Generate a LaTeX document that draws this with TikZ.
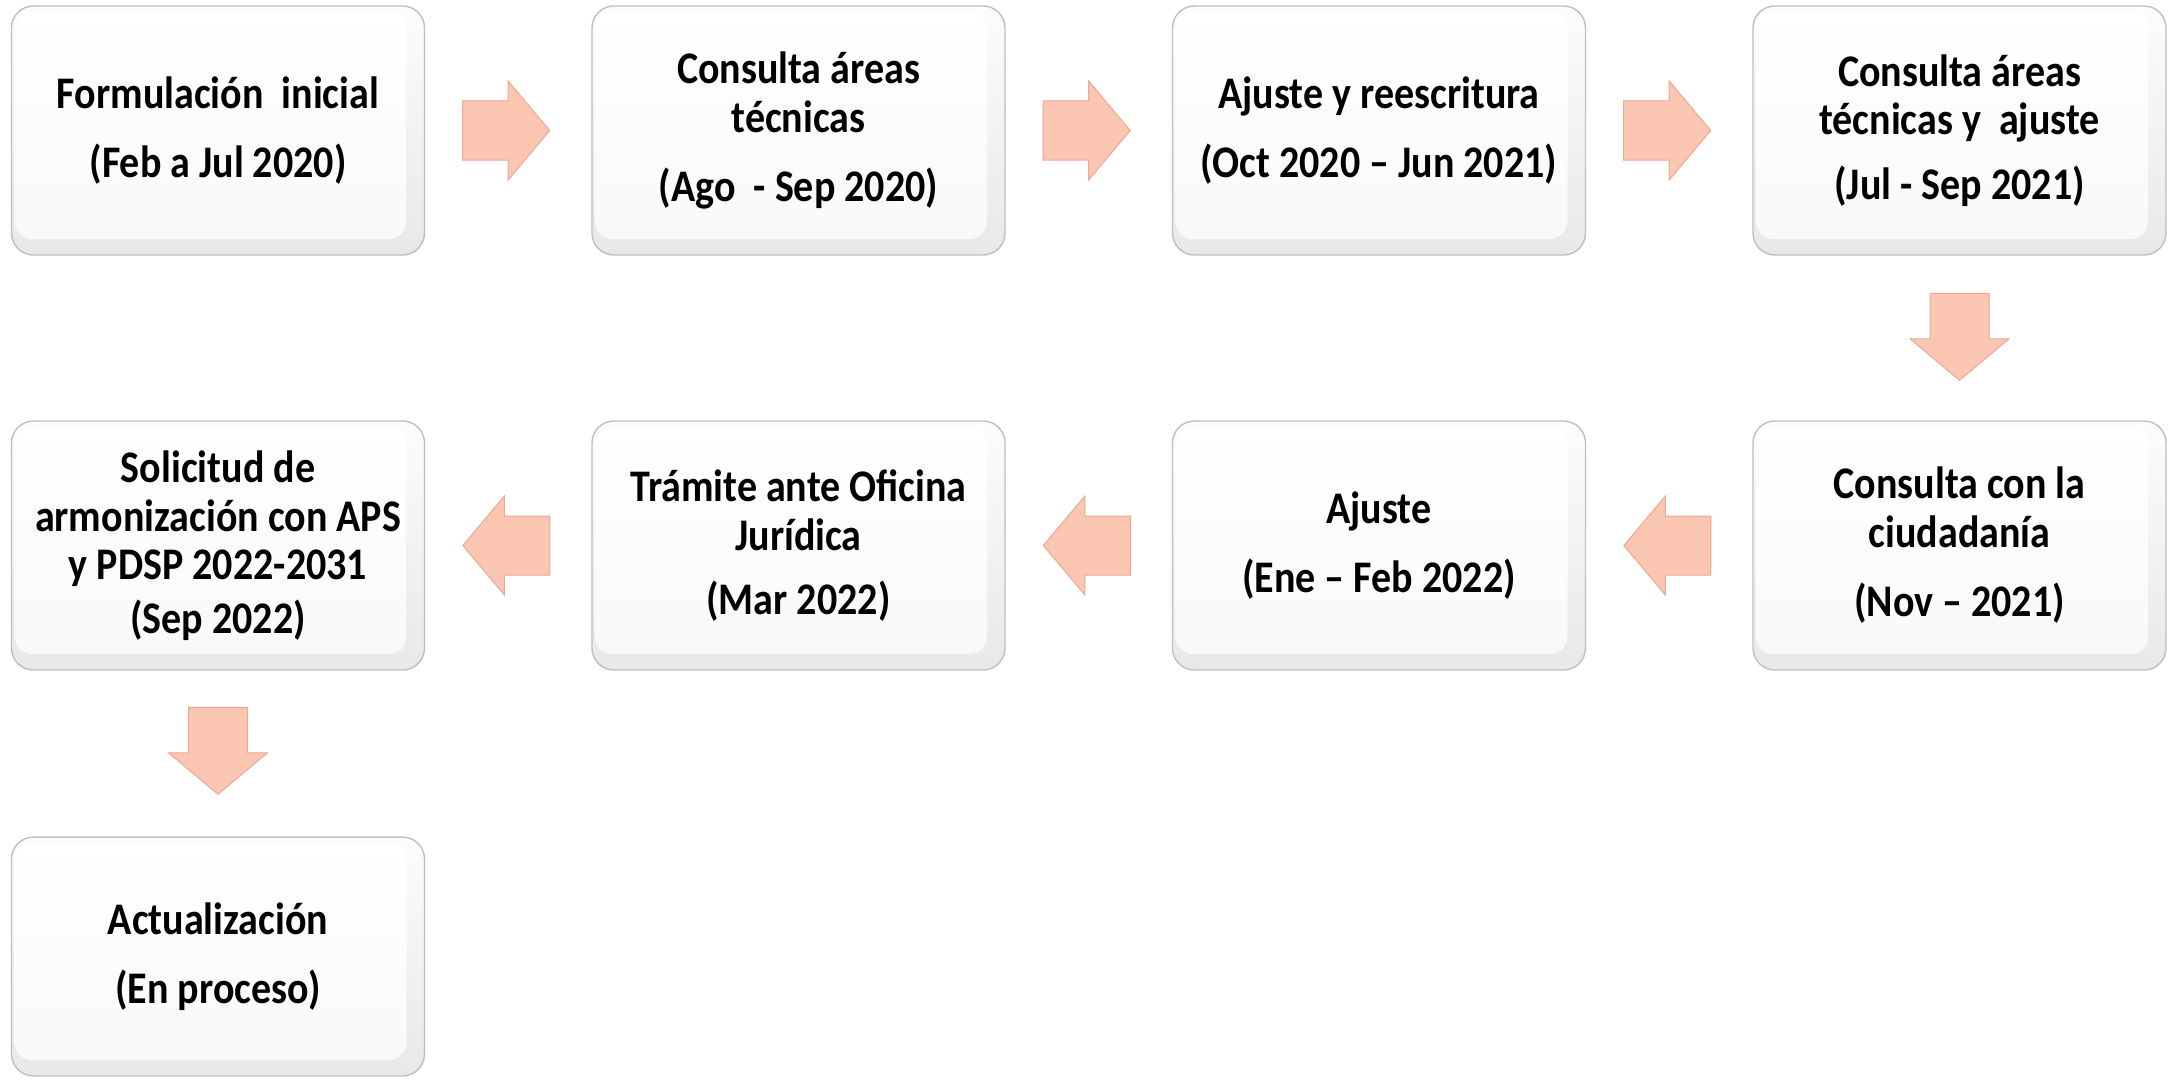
\documentclass[tikz,border=0pt]{standalone}
\usepackage{fontspec}
\setmainfont{Carlito}
\usetikzlibrary{shapes.arrows}

\begin{document}
\begin{tikzpicture}
			\definecolor{arrowFill}{RGB}{251, 198, 178}
			\definecolor{arrowLine}{RGB}{236, 168, 146}
			\tikzstyle{stage}=[rounded corners=11pt, draw=gray!50, line width=0.7pt, top color=gray!2, bottom color=gray!18, minimum width=206.5pt, minimum height=110.2pt, inner sep=0pt, yscale=1.13, transform shape, align=center, font=\fontsize{20}{21.6}\selectfont\bfseries, path picture={\shade[top color=white, bottom color=gray!5, rounded corners=9pt] ([shift={(1.5pt,-2.5pt)}]path picture bounding box.north west) rectangle ([shift={(-9pt,7pt)}]path picture bounding box.south east);}]
			\tikzstyle{flow}=[single arrow, fill=arrowFill, draw=arrowLine, line width=0.5pt, minimum height=43.5pt, minimum width=49pt, single arrow head extend=10pt, single arrow tip angle=100, inner sep=0pt, inner ysep=14.5pt]

			\useasboundingbox (0,0) rectangle (1086pt,-540.5pt);
			\fill [white] (0,0) rectangle (1086pt,-540.5pt);

			\node [stage] (s1) at (109pt,-65.25pt) {Formulación~ inicial\\[9pt](Feb a Jul 2020)};
			\node [stage] (s2) at (399.25pt,-65.25pt) {Consulta áreas\\técnicas\\[9pt](Ago~ - Sep 2020)};
			\node [stage] (s3) at (689.5pt,-65.25pt) {Ajuste y reescritura\\[9pt](Oct 2020 – Jun 2021)};
			\node [stage] (s4) at (979.75pt,-65.25pt) {Consulta áreas\\técnicas y~ ajuste\\[7pt](Jul - Sep 2021)};
			\node [stage] (s5) at (979.75pt,-272.75pt) {Consulta con la\\ciudadanía\\[9pt](Nov – 2021)};
			\node [stage] (s6) at (689.5pt,-272.75pt) {Ajuste\\[9pt](Ene – Feb 2022)};
			\node [stage] (s7) at (399.25pt,-272.75pt) {Trámite ante Oficina\\Jurídica\\[7pt](Mar 2022)};
			\node [stage] (s8) at (109pt,-272.75pt) {Solicitud de\\armonización con APS\\y PDSP 2022-2031\\[2pt](Sep 2022)};
			\node [stage, minimum height=105.7pt] (s9) at (109pt,-478.25pt) {Actualización\\[9pt](En proceso)};

			\node [flow, anchor=tail] (a1) at ([xshift=18.5pt]s1.east) {};
			\node [flow, anchor=tail] (a2) at ([xshift=18.5pt]s2.east) {};
			\node [flow, anchor=tail] (a3) at ([xshift=18.5pt]s3.east) {};
			\node [flow, rotate=-90, anchor=tail] (a4) at ([yshift=-18.5pt]s4.south) {};
			\node [flow, rotate=180, anchor=tip] (a5) at ([xshift=18.5pt]s6.east) {};
			\node [flow, rotate=180, anchor=tip] (a6) at ([xshift=18.5pt]s7.east) {};
			\node [flow, rotate=180, anchor=tip] (a7) at ([xshift=18.5pt]s8.east) {};
			\node [flow, rotate=-90, anchor=tail] (a8) at ([yshift=-18pt]s8.south) {};
		\end{tikzpicture}
\end{document}
